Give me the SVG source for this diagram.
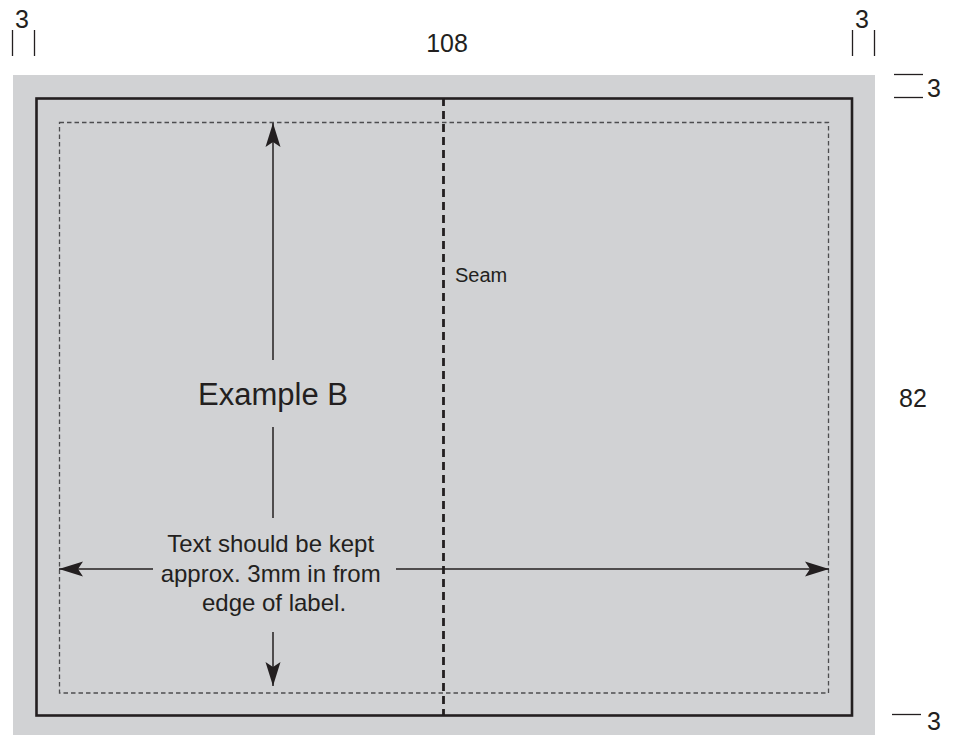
<svg xmlns="http://www.w3.org/2000/svg" width="955" height="735" viewBox="0 0 955 735">
<defs>
<style>
.t{font-family:"Liberation Sans",Arial,sans-serif;fill:#231f20}
.dim{stroke:#231f20;stroke-width:1.3;fill:none}
.arr{stroke:#231f20;stroke-width:1.5;fill:none}
</style>
<marker id="ah" viewBox="-24 -8 24 16" refX="0" refY="0" markerWidth="24" markerHeight="16" markerUnits="userSpaceOnUse" orient="auto">
<path d="M0,0 L-24,-7.5 L-19,0 L-24,7.5 Z" fill="#231f20"/>
</marker>
</defs>
<rect x="0" y="0" width="955" height="735" fill="#ffffff"/>
<g id="label">
<rect x="13" y="75" width="862" height="660" fill="#d1d2d4"/>
<rect x="36.5" y="98.5" width="815.5" height="617" fill="none" stroke="#231f20" stroke-width="2.6"/>
<rect x="59.5" y="122.5" width="769" height="570.5" fill="none" stroke="#4d4d4f" stroke-width="1.3" stroke-dasharray="4.5,3"/>
</g>
<g id="seam">
<line x1="443.5" y1="98" x2="443.5" y2="716" stroke="#231f20" stroke-width="2.8" stroke-dasharray="8,5"/>
<text class="t" x="455" y="282" font-size="20">Seam</text>
</g>
<g id="example-b">
<text class="t" x="273" y="405" font-size="31" text-anchor="middle">Example B</text>
</g>
<g id="note">
<text class="t" font-size="24" text-anchor="middle">
<tspan x="274" y="552">Text should be kept</tspan>
<tspan x="274" y="582">approx. 3mm in from</tspan>
<tspan x="274" y="611">edge of label.</tspan>
</text>
</g>
<g id="connectors">
<line class="arr" x1="273" y1="360" x2="273" y2="123" marker-end="url(#ah)"/>
<line class="arr" x1="273" y1="427" x2="273" y2="518"/>
<line class="arr" x1="273" y1="632" x2="273" y2="686" marker-end="url(#ah)"/>
<line class="arr" x1="153" y1="569" x2="59" y2="569" marker-end="url(#ah)"/>
<line class="arr" x1="396" y1="569" x2="829" y2="569" marker-end="url(#ah)"/>
</g>
<g id="dimensions">
<text class="t" x="22" y="28" font-size="25" text-anchor="middle">3</text>
<line class="dim" x1="12.5" y1="30" x2="12.5" y2="56"/>
<line class="dim" x1="34.5" y1="30" x2="34.5" y2="56"/>
<text class="t" x="447" y="52" font-size="25" text-anchor="middle">108</text>
<text class="t" x="862" y="28" font-size="25" text-anchor="middle">3</text>
<line class="dim" x1="852.5" y1="30" x2="852.5" y2="56"/>
<line class="dim" x1="874.5" y1="30" x2="874.5" y2="56"/>
<line class="dim" x1="894" y1="74.5" x2="923" y2="74.5"/>
<line class="dim" x1="894" y1="97.5" x2="923" y2="97.5"/>
<text class="t" x="927" y="97" font-size="25">3</text>
<text class="t" x="899" y="407" font-size="25">82</text>
<line class="dim" x1="892" y1="714.5" x2="921" y2="714.5"/>
<text class="t" x="927" y="730" font-size="25">3</text>
</g>
</svg>
